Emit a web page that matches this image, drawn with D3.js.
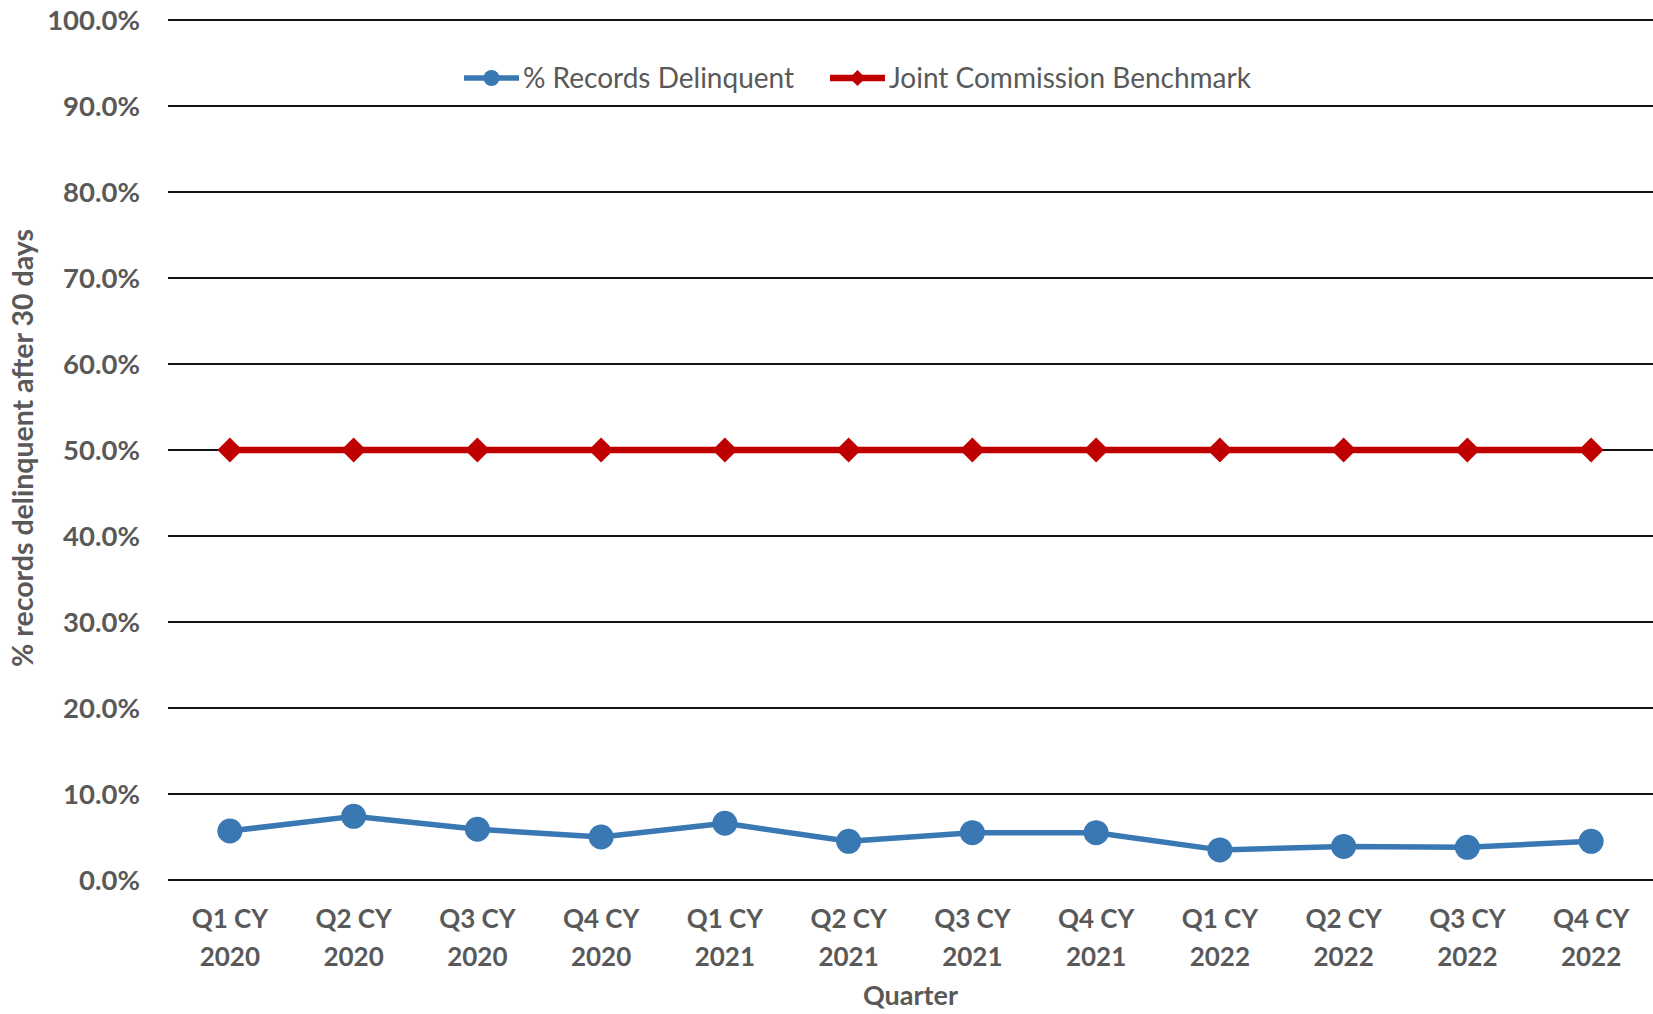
<!DOCTYPE html>
<meta charset="utf-8">
<script src="https://d3js.org/d3.v7.min.js"></script>
<style>
body { margin: 0; background: #fff; }
text { font-family: Lato, "Open Sans", sans-serif; fill: #595959; }
</style>
<body>
<script>

// Chart data
var quarters = ["Q1 CY 2020", "Q2 CY 2020", "Q3 CY 2020", "Q4 CY 2020",
                "Q1 CY 2021", "Q2 CY 2021", "Q3 CY 2021", "Q4 CY 2021",
                "Q1 CY 2022", "Q2 CY 2022", "Q3 CY 2022", "Q4 CY 2022"];
var delinquent = [5.7, 7.4, 5.9, 5.0, 6.6, 4.5, 5.5, 5.5, 3.5, 3.9, 3.8, 4.5];
var benchmark = [50, 50, 50, 50, 50, 50, 50, 50, 50, 50, 50, 50];
var yTicks = [0, 10, 20, 30, 40, 50, 60, 70, 80, 90, 100];

var series = [
  {name: "% Records Delinquent", values: delinquent, color: "#3a78b4", width: 5.5, marker: "circle"},
  {name: "Joint Commission Benchmark", values: benchmark, color: "#c00000", width: 6.5, marker: "diamond"}
];

var W = 1653, H = 1014;
var plot = {left: 168, right: 1653, top: 20, bottom: 880};

var svg = d3.select("body").append("svg")
    .attr("width", W)
    .attr("height", H);

var x = d3.scaleBand()
    .domain(quarters)
    .range([plot.left, plot.right]);

var y = d3.scaleLinear()
    .domain([0, 100])
    .range([plot.bottom, plot.top]);

// gridlines
svg.append("g").selectAll("line")
    .data(yTicks)
    .enter().append("line")
    .attr("x1", plot.left)
    .attr("x2", plot.right)
    .attr("y1", function(d) { return y(d); })
    .attr("y2", function(d) { return y(d); })
    .attr("stroke", "#111")
    .attr("stroke-width", 2);

// y tick labels
svg.append("g").selectAll("text")
    .data(yTicks)
    .enter().append("text")
    .attr("x", 140)
    .attr("y", function(d) { return y(d); })
    .attr("dy", "0.36em")
    .attr("text-anchor", "end")
    .attr("font-size", "27.5px")
    .attr("font-weight", "bold")
    .text(function(d) { return d.toFixed(1) + "%"; });

// x tick labels, two lines each
var xl = svg.append("g").selectAll("text")
    .data(quarters)
    .enter().append("text")
    .attr("text-anchor", "middle")
    .attr("font-size", "26px")
    .attr("font-weight", "bold");
xl.append("tspan")
    .attr("x", function(d) { return x(d) + x.bandwidth() / 2; })
    .attr("y", 928)
    .text(function(d) { return d.split(" ").slice(0, 2).join(" "); });
xl.append("tspan")
    .attr("x", function(d) { return x(d) + x.bandwidth() / 2; })
    .attr("y", 966)
    .text(function(d) { return d.split(" ")[2]; });

// axis titles
svg.append("text")
    .attr("x", (plot.left + plot.right) / 2)
    .attr("y", 1005)
    .attr("text-anchor", "middle")
    .attr("font-size", "27px")
    .attr("font-weight", "bold")
    .text("Quarter");

svg.append("text")
    .attr("transform", "translate(33," + 448 + ") rotate(-90)")
    .attr("text-anchor", "middle")
    .attr("font-size", "28.5px")
    .attr("font-weight", "bold")
    .text("% records delinquent after 30 days");

var diamond = function(s) {
  return "M0," + (-s) + "L" + s + ",0L0," + s + "L" + (-s) + ",0Z";
};

var line = d3.line()
    .x(function(d, i) { return x(quarters[i]) + x.bandwidth() / 2; })
    .y(function(d) { return y(d); });

series.forEach(function(s) {
  var g = svg.append("g");
  g.append("path")
      .attr("d", line(s.values))
      .attr("fill", "none")
      .attr("stroke", s.color)
      .attr("stroke-width", s.width)
      .attr("stroke-linejoin", "round");
  if (s.marker == "circle") {
    g.selectAll("circle")
        .data(s.values)
        .enter().append("circle")
        .attr("cx", function(d, i) { return x(quarters[i]) + x.bandwidth() / 2; })
        .attr("cy", function(d) { return y(d); })
        .attr("r", 12.5)
        .attr("fill", s.color);
  } else {
    g.selectAll("path.mk")
        .data(s.values)
        .enter().append("path")
        .attr("class", "mk")
        .attr("transform", function(d, i) {
          return "translate(" + (x(quarters[i]) + x.bandwidth() / 2) + "," + y(d) + ")";
        })
        .attr("d", diamond(12.5))
        .attr("fill", s.color);
  }
});

// legend
var legendX = [464, 830];
var legendY = 78;
var leg = svg.selectAll(".legend")
    .data(series)
    .enter().append("g")
    .attr("class", "legend")
    .attr("transform", function(d, i) { return "translate(" + legendX[i] + "," + legendY + ")"; });
leg.append("line")
    .attr("x1", 0)
    .attr("x2", 55)
    .attr("stroke", function(d) { return d.color; })
    .attr("stroke-width", function(d) { return d.width; });
leg.each(function(d) {
  var g = d3.select(this);
  if (d.marker == "circle") {
    g.append("circle").attr("cx", 27.5).attr("r", 8).attr("fill", d.color);
  } else {
    g.append("path").attr("transform", "translate(27.5,0)").attr("d", diamond(8)).attr("fill", d.color);
  }
});
leg.append("text")
    .attr("x", 59)
    .attr("dy", "0.36em")
    .attr("font-size", "28px")
    .text(function(d) { return d.name; });

</script>
</body>
</html>
